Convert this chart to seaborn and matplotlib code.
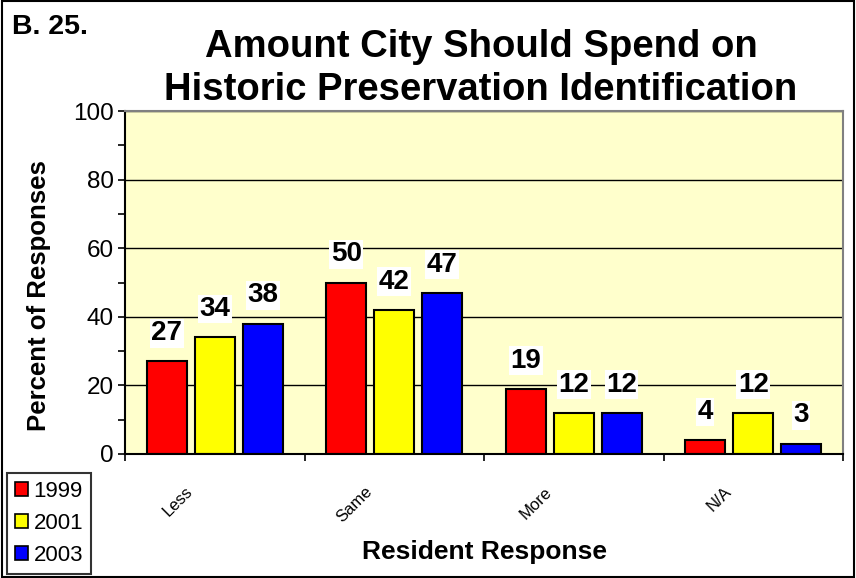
import matplotlib
matplotlib.use("Agg")
import matplotlib.pyplot as plt
import seaborn as sns
import pandas as pd
from matplotlib.patches import Rectangle, Patch

categories = ["Less", "Same", "More", "N/A"]
years = ["1999", "2001", "2003"]
v1999 = [27, 50, 19, 4]
v2001 = [34, 42, 12, 12]
v2003 = [38, 47, 12, 3]
colors = ["#FF0000", "#FFFF00", "#0000FF"]

rows = []
for y, vals in zip(years, [v1999, v2001, v2003]):
    for c, v in zip(categories, vals):
        rows.append({"Response": c, "Year": y, "Percent": v})
df = pd.DataFrame(rows)

sns.set_style("white")
plt.rcParams["font.family"] = ["Liberation Sans", "DejaVu Sans"]
plt.rcParams["text.color"] = "black"
plt.rcParams["axes.labelcolor"] = "black"
plt.rcParams["xtick.color"] = "black"
plt.rcParams["ytick.color"] = "black"

fig = plt.figure(figsize=(8.56, 5.78), dpi=100)
ax = fig.add_axes([125/856, 1-454/578, (843-125)/856, (454-111)/578])
ax.set_facecolor("#FFFFCC")

sns.barplot(data=df, x="Response", y="Percent", hue="Year", palette=colors,
            order=categories, hue_order=years, width=0.8, gap=0.165, saturation=1,
            edgecolor="black", linewidth=1.5, ax=ax, legend=False, zorder=2)

ax.set_ylim(0, 100)
ax.set_xlim(-0.5, 3.5)
ax.set_yticks([0, 20, 40, 60, 80, 100])
ax.set_yticks(range(10, 100, 20), minor=True)
ax.yaxis.grid(True, color="black", linewidth=1.0, zorder=0)
ax.set_axisbelow(True)
ax.tick_params(axis="y", which="both", left=True, direction="out", length=5, width=1.2,
               labelsize=17.5, color="black", labelcolor="black", pad=3)

# category labels sit slightly left of each group centre, as in the reference
label_shift = 0.135
ax.set_xticks([i - label_shift for i in range(len(categories))])
ax.set_xticklabels(categories, rotation=45, ha="right", va="center",
                   rotation_mode="anchor", fontsize=12, color="black")
ax.set_xticks([-0.5, 0.5, 1.5, 2.5, 3.5], minor=True)
ax.tick_params(axis="x", which="major", bottom=False, pad=22)
ax.tick_params(axis="x", which="minor", bottom=True, direction="out", length=5, width=1.2)

for s in ["left", "bottom"]:
    ax.spines[s].set_color("black")
    ax.spines[s].set_linewidth(1.5)
for s in ["top", "right"]:
    ax.spines[s].set_color("#808080")
    ax.spines[s].set_linewidth(1.5)

for cont in ax.containers:
    ax.bar_label(cont, padding=11, fontsize=20, fontweight="bold", color="black",
                 bbox=dict(facecolor="white", edgecolor="none", pad=1.0), zorder=5)

ax.set_xlabel("Resident Response", fontsize=19, fontweight="bold", color="black")
ax.xaxis.set_label_coords((484-125)/718, -(86)/343)
ax.set_ylabel("Percent of Responses", fontsize=18.5, fontweight="bold", color="black")
ax.yaxis.set_label_coords(-(125-51)/718, (454-296)/343)

fig.text(481/856, 1-47/578, "Amount City Should Spend on",
         ha="center", va="center", fontsize=27.5, fontweight="bold", color="black")
fig.text(481/856, 1-90/578, "Historic Preservation Identification",
         ha="center", va="center", fontsize=27.5, fontweight="bold", color="black")
fig.text(12/856, 1-27/578, "B. 25.", ha="left", va="center", fontsize=20.5,
         fontweight="bold", color="black")

fig.patches.append(Rectangle((0.002, 0.002), 0.996, 0.996, transform=fig.transFigure,
                             fill=False, edgecolor="black", linewidth=1.5))

handles = [Patch(facecolor=c, edgecolor="black", linewidth=1.2) for c in colors]
leg = fig.legend(handles, years, loc="lower left", bbox_to_anchor=(7/856, 4/578),
                 frameon=True, fancybox=False, fontsize=16, handlelength=0.6,
                 handleheight=0.6, handletextpad=0.25, borderpad=0.35, labelspacing=0.5,
                 borderaxespad=0)
leg.get_frame().set_edgecolor("black")
leg.get_frame().set_linewidth(1.5)
for t in leg.get_texts():
    t.set_color("black")

fig.savefig("out.png", dpi=100)
